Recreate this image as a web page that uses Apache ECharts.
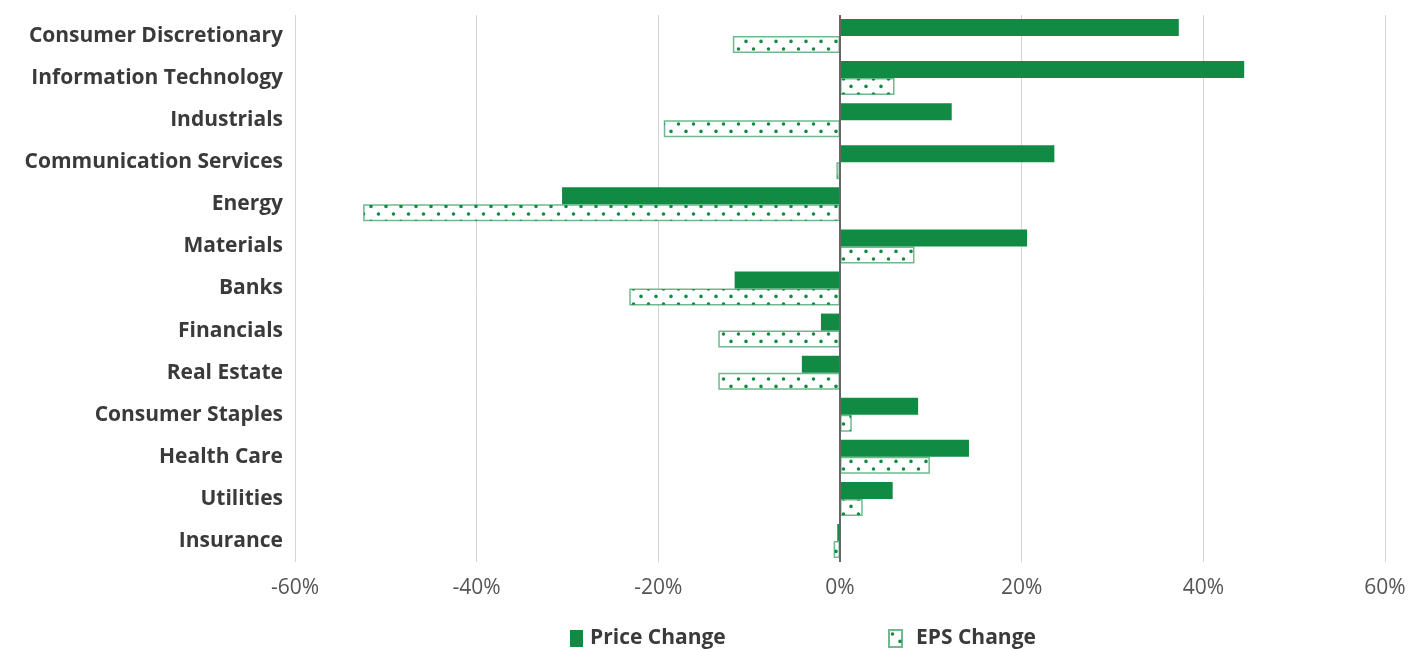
<!DOCTYPE html>
<html>
<head>
<meta charset="utf-8">
<script src="https://cdn.jsdelivr.net/npm/echarts@6/dist/echarts.min.js"></script>
<style>
  html, body { margin: 0; padding: 0; background: #fff; }
  #chart { width: 1413px; height: 649px; }
</style>
</head>
<body>
<div id="chart"></div>
<script>
// sectors, top to bottom
const categories = [
  "Consumer Discretionary", "Information Technology", "Industrials",
  "Communication Services", "Energy", "Materials", "Banks", "Financials",
  "Real Estate", "Consumer Staples", "Health Care", "Utilities", "Insurance"
];
const priceChange = [37.3, 44.5, 12.3, 23.6, -30.6, 20.6, -11.6, -2.1, -4.2, 8.6, 14.2, 5.8, -0.3];
const epsChange = [-11.8, 6.0, -19.4, -0.4, -52.5, 8.2, -23.2, -13.4, -13.4, 1.3, 9.9, 2.5, -0.7];
const xTicks = [-60, -40, -20, 0, 20, 40, 60];

const green = "#118b44";

// dotted fill for EPS bars
function dotPattern() {
  const c = document.createElement("canvas");
  c.width = 15;
  c.height = 15;
  const ctx = c.getContext("2d");
  ctx.fillStyle = "#fff";
  ctx.fillRect(0, 0, 15, 15);
  ctx.fillStyle = green;
  ctx.beginPath();
  ctx.arc(3.5, 4, 1.8, 0, Math.PI * 2);
  ctx.moveTo(11, 11.4);
  ctx.arc(11, 11.4, 1.8, 0, Math.PI * 2);
  ctx.fill();
  return c;
}

const chart = echarts.init(document.getElementById("chart"));
const labelFont = "'Open Sans', 'Noto Sans', sans-serif";

chart.setOption({
  animation: false,
  grid: { left: 295, right: 28, top: 15, bottom: 87 },
  legend: [
    {
      data: ["Price Change"], left: 565, top: 623, icon: "rect",
      itemWidth: 13, itemHeight: 17,
      textStyle: { fontSize: 21, fontWeight: "bold", color: "#3a3a3a", fontFamily: labelFont, padding: [0, 0, 0, 2] }
    },
    {
      data: ["EPS Change"], left: 883, top: 623, icon: "rect",
      itemWidth: 13, itemHeight: 17,
      textStyle: { fontSize: 21, fontWeight: "bold", color: "#3a3a3a", fontFamily: labelFont, padding: [0, 0, 0, 9] }
    }
  ],
  xAxis: {
    type: "value",
    min: -60, max: 60, interval: 20,
    axisLine: { show: false },
    axisTick: { show: false },
    splitLine: { lineStyle: { color: "#d4d4d4", width: 1 } },
    axisLabel: {
      margin: 16,
      fontSize: 21, color: "#555", fontFamily: labelFont,
      formatter: v => (xTicks.includes(v) ? v + "%" : "")
    }
  },
  yAxis: {
    type: "category",
    inverse: true,
    data: categories,
    axisLine: { show: false },
    axisTick: { show: false },
    axisLabel: {
      margin: 12,
      fontSize: 21, fontWeight: "bold", color: "#3a3a3a", fontFamily: labelFont
    }
  },
  series: [
    {
      name: "Price Change",
      type: "bar",
      data: priceChange,
      barWidth: 17,
      barGap: "0%",
      itemStyle: { color: green },
      markLine: {
        silent: true,
        symbol: "none",
        label: { show: false },
        lineStyle: { color: "#666", width: 2, type: "solid" },
        data: [{ xAxis: 0 }]
      }
    },
    {
      name: "EPS Change",
      type: "bar",
      data: epsChange,
      barWidth: 17,
      barGap: "0%",
      itemStyle: {
        color: { image: dotPattern(), repeat: "repeat" },
        borderColor: "rgba(17,139,68,0.6)",
        borderWidth: 1.5
      }
    }
  ]
});
</script>
</body>
</html>
